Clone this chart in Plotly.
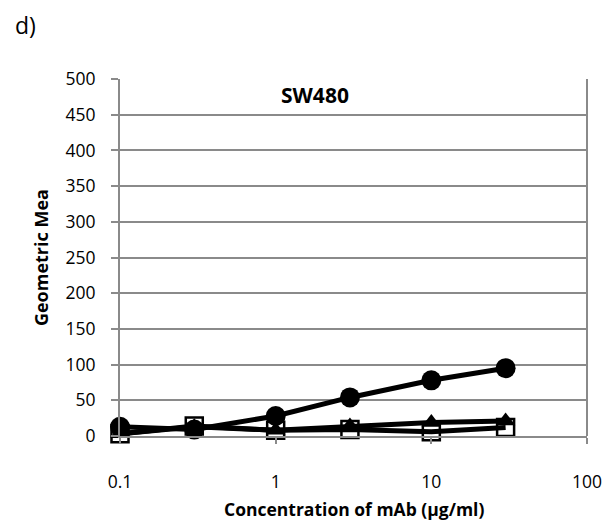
import plotly.graph_objects as go

conc = [0.1, 0.3, 1, 3, 10, 30]
circle_vals = [13, 9, 28, 54, 78, 95]
triangle_vals = [3, 13, 8, 14, 19, 21]
square_vals = [3, 14, 8, 9, 6, 12]

x_ticks = [0.1, 1, 10, 100]
x_ticktext = ["0.1", "1", "10", "100"]
y_ticks = list(range(0, 501, 50))

grey = "#8a8a8a"
fig = go.Figure()
line = dict(color="black", width=5)
fig.add_trace(go.Scatter(x=conc, y=square_vals, mode="lines+markers", line=line,
                         marker=dict(symbol="square-open", size=17, color="black", line=dict(width=2.5)),
                         cliponaxis=False, showlegend=False))
fig.add_trace(go.Scatter(x=conc, y=triangle_vals, mode="lines+markers", line=line,
                         marker=dict(symbol="triangle-up", size=17, color="black"),
                         cliponaxis=False, showlegend=False))
fig.add_trace(go.Scatter(x=conc, y=circle_vals, mode="lines+markers", line=line,
                         marker=dict(symbol="circle", size=20, color="black"),
                         cliponaxis=False, showlegend=False))

font = "Open Sans, Liberation Sans, sans-serif"
fig.update_layout(
    width=611, height=522,
    margin=dict(l=120, r=24, t=79, b=86),
    paper_bgcolor="white", plot_bgcolor="white",
    font=dict(family=font, size=17.5, color="black"),
    xaxis=dict(type="log", range=[-1, 2], tickvals=x_ticks, ticktext=x_ticktext,
               showgrid=False, showline=True, linecolor=grey, linewidth=2,
               ticks="outside", ticklen=6, tickcolor=grey, tickwidth=2,
               ticklabelstandoff=23, zeroline=False, automargin=False),
    yaxis=dict(range=[0, 500], tickvals=y_ticks, showgrid=True, gridcolor=grey, gridwidth=2,
               showline=True, linecolor=grey, linewidth=2, ticks="outside", ticklen=7,
               tickcolor=grey, tickwidth=2, zeroline=False, ticklabelstandoff=12,
               automargin=False),
    shapes=[dict(type="line", xref="paper", yref="paper", x0=1, x1=1, y0=0, y1=1,
                 line=dict(color=grey, width=2))],
    annotations=[
        dict(text="<b>SW480</b>", xref="x", yref="paper", x=0.25, y=0.955,
             showarrow=False, font=dict(size=21), xanchor="center", yanchor="middle"),
        dict(text="d)", xref="paper", yref="paper", x=-0.23, y=1.15, showarrow=False,
             font=dict(size=23), xanchor="left", yanchor="middle"),
        dict(text="<b>Concentration of mAb (µg/ml)</b>", xref="paper", yref="paper",
             x=0.5, y=-0.205, showarrow=False, font=dict(size=17.5),
             xanchor="center", yanchor="middle"),
        dict(text="<b>Geometric Mea</b>", xref="paper", yref="paper",
             x=-0.17, y=0.5, showarrow=False, font=dict(size=18), textangle=-90,
             xanchor="center", yanchor="middle"),
    ],
)
fig.write_html("out.html", config={"displayModeBar": False},
               post_script="document.body.style.margin='0';document.body.style.overflow='hidden';")
